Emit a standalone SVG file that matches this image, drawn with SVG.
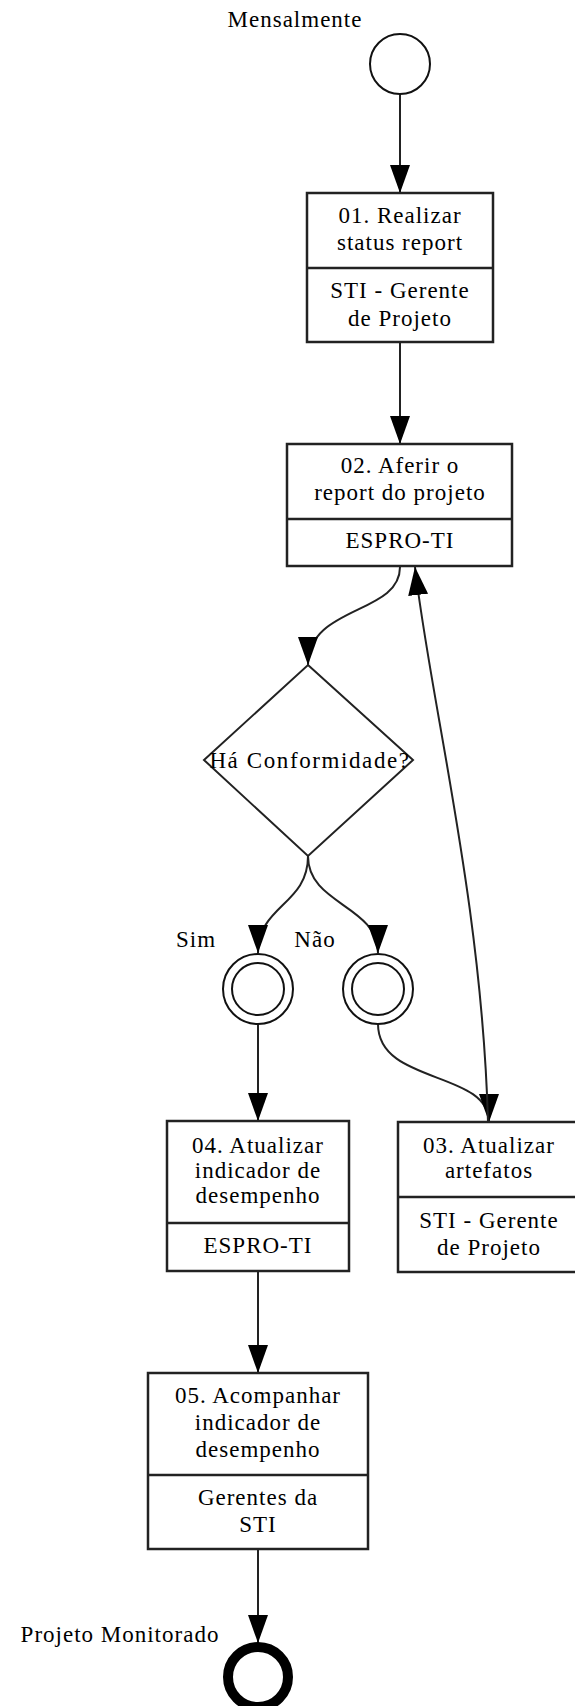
<svg xmlns="http://www.w3.org/2000/svg" width="575" height="1706" viewBox="0 0 575 1706">
<style>
.t{font-family:"Liberation Serif","Times New Roman",serif;font-size:23px;fill:#000;text-anchor:middle;letter-spacing:1px}
.wide{letter-spacing:1.6px}
.box{fill:#fff;stroke:#222;stroke-width:2.5}
.div{stroke:#222;stroke-width:2.5}
.ln{fill:none;stroke:#222;stroke-width:2}
.ev{fill:#fff;stroke:#111;stroke-width:2}
</style>
<defs>
<marker id="arr" markerUnits="userSpaceOnUse" markerWidth="28" markerHeight="22" refX="28" refY="11" orient="auto" viewBox="0 0 28 22">
<path d="M0,1 L28,11 L0,21 z" fill="#000"/>
</marker>
</defs>
<rect width="575" height="1706" fill="#fff"/>

<g id="connectors">
<path class="ln" d="M400,94 L400,193" marker-end="url(#arr)"/>
<path class="ln" d="M400,342 L400,444" marker-end="url(#arr)"/>
<path class="ln" d="M400,567 C400,615 308,605 308,665" marker-end="url(#arr)"/>
<path class="ln" d="M308,856 C308,905 258,905 258,953" marker-end="url(#arr)"/>
<path class="ln" d="M308,856 C308,905 378,905 378,953" marker-end="url(#arr)"/>
<path class="ln" d="M258,1024 L258,1121" marker-end="url(#arr)"/>
<path class="ln" d="M378,1024 C378,1085 489,1070 489,1122" marker-end="url(#arr)"/>
<path class="ln" d="M488,1122 C482,900 430,700 415,567" marker-end="url(#arr)"/>
<path class="ln" d="M258,1271 L258,1373" marker-end="url(#arr)"/>
<path class="ln" d="M258,1549 L258,1643" marker-end="url(#arr)"/>
</g>

<g id="start">
<circle class="ev" cx="400" cy="64" r="30"/>
<text class="t" x="295" y="27">Mensalmente</text>
</g>

<g id="task01">
<rect class="box" x="307" y="193" width="186" height="149"/>
<line class="div" x1="307" y1="268" x2="493" y2="268"/>
<text class="t" x="400" y="223">01. Realizar</text>
<text class="t" x="400" y="250">status report</text>
<text class="t" x="400" y="298">STI - Gerente</text>
<text class="t" x="400" y="326">de Projeto</text>
</g>

<g id="task02">
<rect class="box" x="287" y="444" width="225" height="122"/>
<line class="div" x1="287" y1="519" x2="512" y2="519"/>
<text class="t" x="400" y="473">02. Aferir o</text>
<text class="t" x="400" y="500">report do projeto</text>
<text class="t" x="400" y="548">ESPRO-TI</text>
</g>

<g id="gateway">
<path d="M308,665 L413,760 L308,856 L204,760 Z" fill="#fff" stroke="#222" stroke-width="2"/>
<text class="t wide" x="310" y="768">Há Conformidade?</text>
</g>

<g id="event-sim">
<circle class="ev" cx="258" cy="989" r="35"/>
<circle class="ev" cx="258" cy="989" r="26"/>
<text class="t" x="196" y="947">Sim</text>
</g>

<g id="event-nao">
<circle class="ev" cx="378" cy="989" r="35"/>
<circle class="ev" cx="378" cy="989" r="26"/>
<text class="t" x="315" y="947">Não</text>
</g>

<g id="task03">
<rect class="box" x="398" y="1122" width="182" height="150"/>
<line class="div" x1="398" y1="1197" x2="580" y2="1197"/>
<text class="t" x="489" y="1153">03. Atualizar</text>
<text class="t" x="489" y="1178">artefatos</text>
<text class="t" x="489" y="1228">STI - Gerente</text>
<text class="t" x="489" y="1255">de Projeto</text>
</g>

<g id="task04">
<rect class="box" x="167" y="1121" width="182" height="150"/>
<line class="div" x1="167" y1="1223" x2="349" y2="1223"/>
<text class="t" x="258" y="1153">04. Atualizar</text>
<text class="t" x="258" y="1178">indicador de</text>
<text class="t" x="258" y="1203">desempenho</text>
<text class="t" x="258" y="1253">ESPRO-TI</text>
</g>

<g id="task05">
<rect class="box" x="148" y="1373" width="220" height="176"/>
<line class="div" x1="148" y1="1475" x2="368" y2="1475"/>
<text class="t" x="258" y="1403">05. Acompanhar</text>
<text class="t" x="258" y="1430">indicador de</text>
<text class="t" x="258" y="1457">desempenho</text>
<text class="t" x="258" y="1505">Gerentes da</text>
<text class="t" x="258" y="1532">STI</text>
</g>

<g id="end">
<circle cx="258" cy="1677" r="30" fill="#fff" stroke="#000" stroke-width="10"/>
<text class="t" x="120" y="1642">Projeto Monitorado</text>
</g>
</svg>
